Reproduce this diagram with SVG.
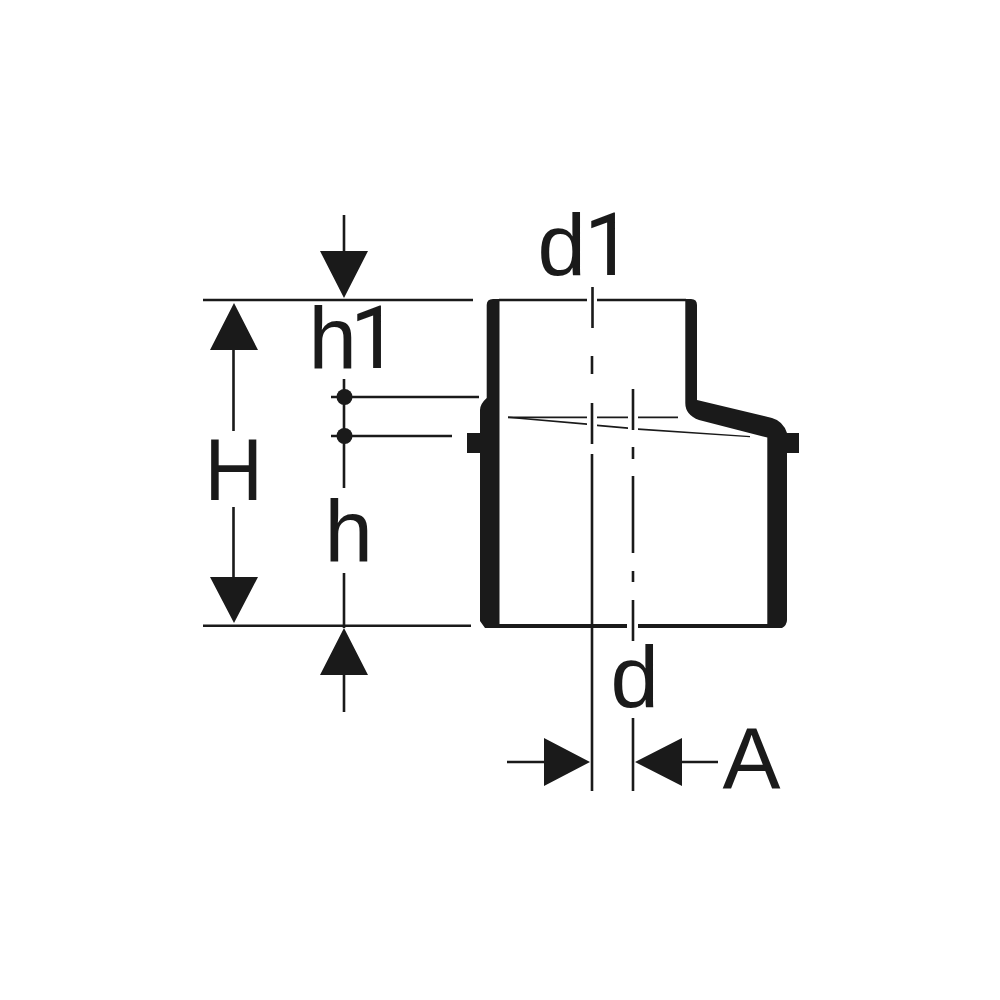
<svg xmlns="http://www.w3.org/2000/svg" width="1000" height="1000" viewBox="0 0 1000 1000">
<style>
.l{stroke:#1a1a1a;stroke-width:2.6;fill:none}
.f{fill:#1a1a1a;stroke:none}
text{font-family:"Liberation Sans",Arial,sans-serif;font-size:87px;fill:#1a1a1a}
.one{font-family:Roboto,"Liberation Sans",sans-serif}
</style>
<rect width="1000" height="1000" fill="#fff"/>
<g id="fitting">
<path class="f" d="M493 299H499.500V628H485L480 621V410Q480 404 486.700 398V305Q486.700 299 493 299Z"/>
<path class="f" d="M685.300 299H691Q697 299 697 305V400L772 418Q783 421 787 433V620Q787 625 782 628H767.300V437.500L699 420Q685.300 415 685.300 403Z"/>
<rect class="f" x="467" y="433" width="14" height="20"/>
<rect class="f" x="786" y="433" width="13" height="20"/>
<path class="l" d="M499 300H587M597 300H686"/>
<path class="f" d="M499 624H627V628H499ZM638 624H768V628H638Z"/>
</g>
<g id="connectors">
<path class="l" d="M203 300H473M203 625.700H471"/>
<path class="l" d="M344 215V252M344 379V488M344 573V628M344 675V712"/>
<path class="l" d="M233.500 350V431M233.500 507V578"/>
<path class="l" d="M331 397H479M331 436H452"/>
<path class="l" d="M592.500 287V328M592 356V374M592 403V444M592 454V791"/>
<path class="l" d="M633 389V430M633 447V459M633 476V553M633 571V582M633 600V641M633 718V791"/>
<path class="l" d="M507 762H546M680 762H718"/>
<path stroke="#1a1a1a" stroke-width="1.800" fill="none" d="M508 417.300H587M597 417.300H628M638 417.300H678"/>
<path class="f" d="M508 416.500L587 423.300V425L508 418ZM597 424.500L628 427.200V428.900L597 426.200ZM638 428.200L750 436V437.200L638 430Z"/>
<path class="f" d="M320 251H368L344 298ZM210 350H258L234 303ZM210 577H258L234 623ZM320 675H368L344 628ZM544 738V786L590 762ZM682 738V786L635 762Z"/>
<circle class="f" cx="344.500" cy="397" r="8"/>
<circle class="f" cx="344.500" cy="436" r="8"/>
</g>
<g id="labels">
<text x="537.500" y="275">d<tspan class="one" x="584">1</tspan></text>
<text x="308.500" y="368">h<tspan class="one" x="350">1</tspan></text>
<text x="324.500" y="561">h</text>
<text x="610.500" y="707">d</text>
<text x="722.500" y="789">A</text>
<text transform="translate(204.500,500) scale(.93,1)">H</text>
</g>
</svg>
